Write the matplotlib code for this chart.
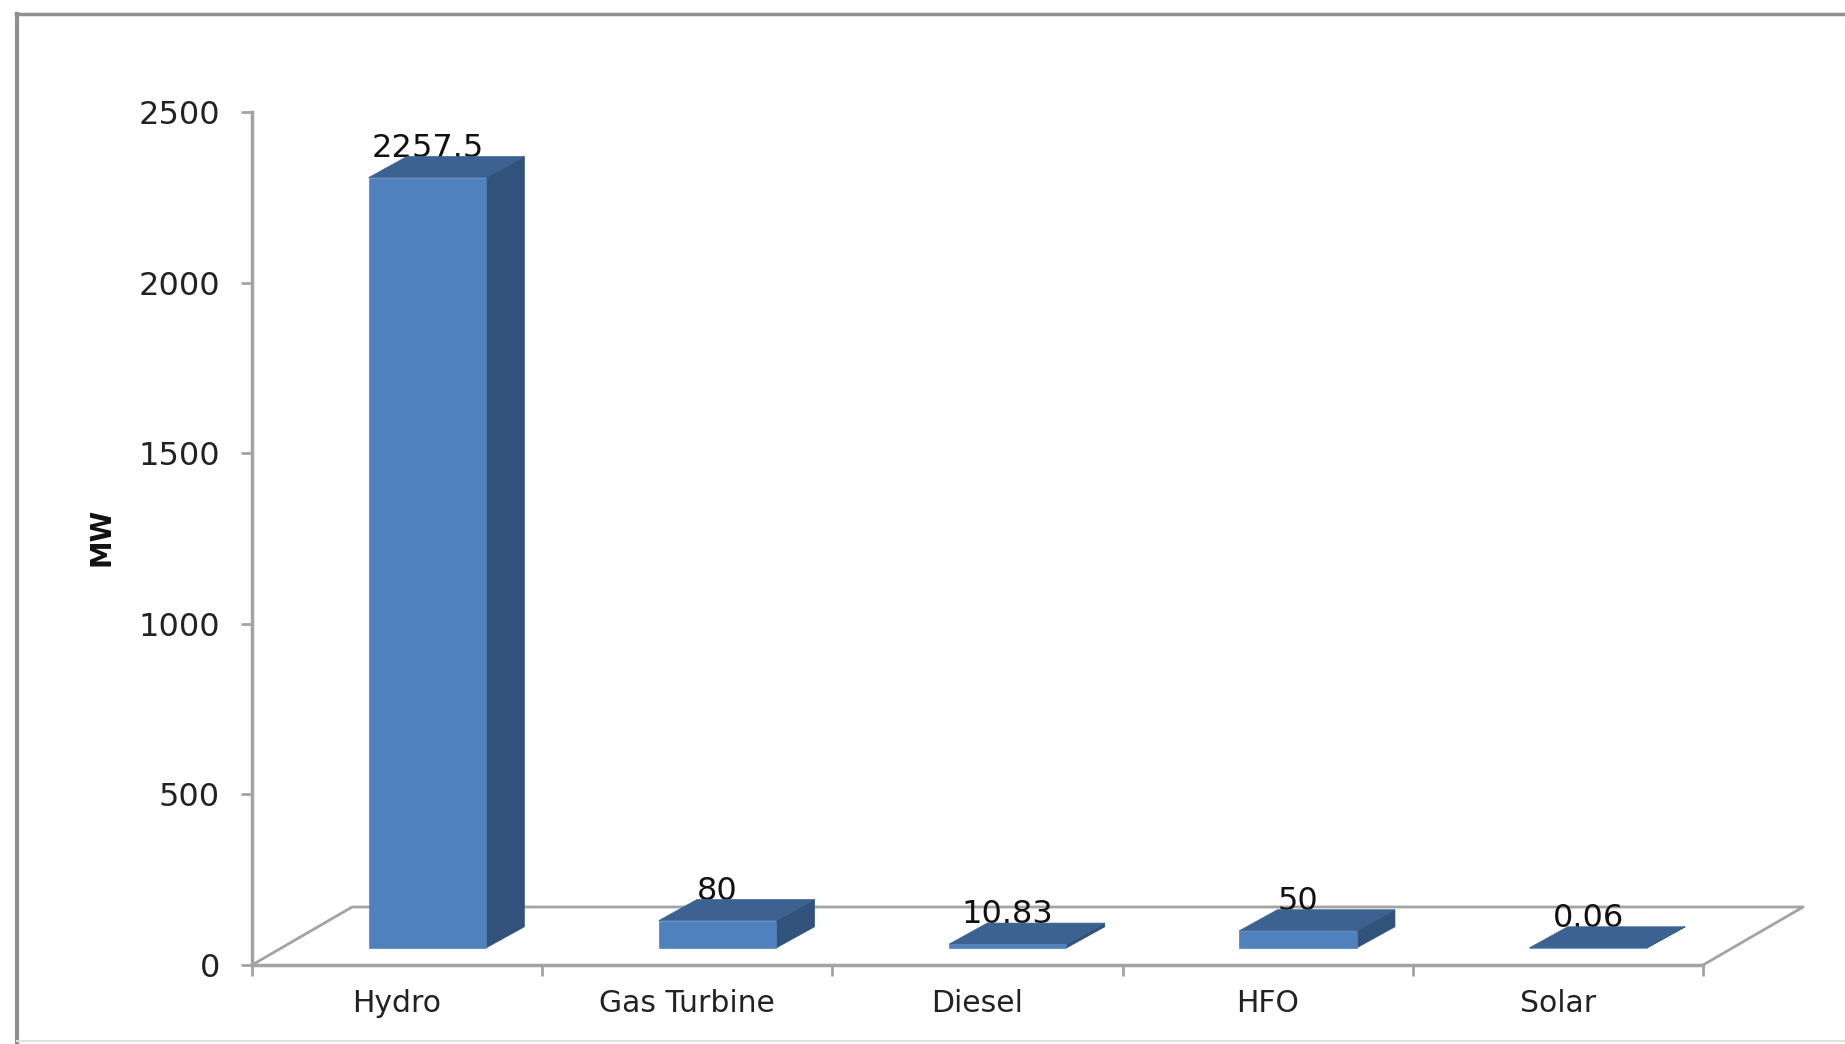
import matplotlib.pyplot as plt
from matplotlib.lines import Line2D
from matplotlib.patches import Polygon

categories = ['Hydro', 'Gas Turbine', 'Diesel', 'HFO', 'Solar']
capacity_mw = [2257.5, 80, 10.83, 50, 0.06]
value_labels = ['2257.5', '80', '10.83', '50', '0.06']
y_ticks = [0, 500, 1000, 1500, 2000, 2500]

W, H = 1845, 1044
GRAY = '#a3a3a3'
TEXT = '#222222'
FRONT = '#4f81bd'
SIDE = '#31527b'
TOP = '#3c6291'

# fake 3d geometry, x in category units and y in MW
FLOOR_DX, FLOOR_DY = 0.345, 170
BAR_WIDTH = 0.405
BAR_SHIFT = 0.104
BAR_LIFT = 50
BAR_DX, BAR_DY = 0.132, 62

fig = plt.figure(figsize=(W / 100, H / 100), dpi=100)
ax = fig.add_axes([252 / W, 1 - 965 / H, (1703 - 252) / W, (965 - 112) / H])
ax.set_xlim(0, 5)
ax.set_ylim(0, 2500)
ax.patch.set_visible(False)

for side in ['top', 'right']:
    ax.spines[side].set_visible(False)
for side in ['left', 'bottom']:
    ax.spines[side].set_color(GRAY)
    ax.spines[side].set_linewidth(2.5)

ax.set_yticks(y_ticks)
ax.tick_params(axis='y', length=8, width=2, color=GRAY, pad=15, labelsize=23, labelcolor=TEXT)
ax.set_xticks(range(6))
ax.set_xticklabels([])
ax.tick_params(axis='x', length=8, width=2, color=GRAY)

# category names sit between the ticks
for i, name in enumerate(categories):
    ax.annotate(name, (i + 0.5, 0), xytext=(0, -38), textcoords='offset pixels',
                ha='center', va='center', fontsize=21.5, color=TEXT)

ax.text(102, H - 537, 'MW', transform=None, rotation=90, ha='center', va='center',
        fontsize=20, fontweight='bold', color='#111111')

# floor outline
ax.plot([0, FLOOR_DX, 5 + FLOOR_DX, 5], [0, FLOOR_DY, FLOOR_DY, 0],
        color=GRAY, lw=2, clip_on=False, zorder=1)

for i, (val, label) in enumerate(zip(capacity_mw, value_labels)):
    x0 = i + 0.5 + BAR_SHIFT - BAR_WIDTH / 2
    x1 = x0 + BAR_WIDTH
    y0 = BAR_LIFT
    y1 = BAR_LIFT + val
    ax.text((x0 + x1) / 2, y1 + BAR_DY + 24, label, ha='center', va='center',
            fontsize=23, color='#111111', zorder=2)
    ax.add_patch(Polygon([(x1, y0), (x1 + BAR_DX, y0 + BAR_DY), (x1 + BAR_DX, y1 + BAR_DY), (x1, y1)],
                         facecolor=SIDE, edgecolor=SIDE, lw=0.5, clip_on=False, zorder=3))
    ax.add_patch(Polygon([(x0, y1), (x0 + BAR_DX, y1 + BAR_DY), (x1 + BAR_DX, y1 + BAR_DY), (x1, y1)],
                         facecolor=TOP, edgecolor=TOP, lw=0.5, clip_on=False, zorder=3))
    ax.add_patch(Polygon([(x0, y0), (x1, y0), (x1, y1), (x0, y1)],
                         facecolor=FRONT, edgecolor=FRONT, lw=0.5, clip_on=False, zorder=4))

# frame around the chart, cut off on the right
frame = '#8f8f8f'
fig.add_artist(Line2D([17 / W, 17 / W], [0, 1 - 14 / H], color=frame, lw=3))
fig.add_artist(Line2D([16 / W, 1], [1 - 14 / H, 1 - 14 / H], color=frame, lw=2.5))
fig.add_artist(Line2D([17 / W, 1], [1 - 1041 / H, 1 - 1041 / H], color='#e2e2e2', lw=1.5))

fig.savefig('out.png', dpi=100)
